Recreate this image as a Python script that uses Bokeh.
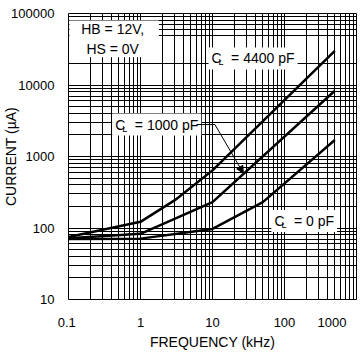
import numpy as np
from bokeh.plotting import figure
from bokeh.models import FixedTicker, Label, Arrow, NormalHead, BoxAnnotation
from bokeh.embed import file_html
from bokeh.resources import INLINE

# ---- data ----
freq_0 = [0.1, 1, 10, 50, 500]
cur_0 = [70, 71, 97, 230, 1700]

freq_1000 = [0.1, 1, 10, 500]
cur_1000 = [72, 83, 230, 8300]

freq_4400 = [0.1, 1, 3, 10, 500]
cur_4400 = [75, 122, 245, 640, 30000]

x_ticks = [0.1, 1, 10, 100, 1000]
x_labels = ["0.1", "1", "10", "100", "1000"]
y_ticks = [10, 100, 1000, 10000, 100000]
y_labels = ["10", "100", "1000", "10000", "100000"]
y_minor_skip = [30000, 40000]

FONT = "Liberation Sans"

p = figure(width=364, height=354, x_axis_type="log", y_axis_type="log",
           x_range=(0.1, 1000), y_range=(10, 100000),
           output_backend="svg", toolbar_location=None,
           min_border_left=66, min_border_right=8, min_border_top=13, min_border_bottom=55)

x_minor = [d * k for d in x_ticks[:-1] for k in range(2, 10)]
y_minor = [d * k for d in y_ticks[:-1] for k in range(2, 10) if d * k not in y_minor_skip]
p.xaxis.ticker = FixedTicker(ticks=x_ticks, minor_ticks=x_minor)
p.yaxis.ticker = FixedTicker(ticks=y_ticks, minor_ticks=y_minor)

xo = dict(zip(x_ticks, x_labels))
xo[0.1] = "0.1\u00a0"
xo[1000] = "1000" + "\u00a0" * 5
p.xaxis.major_label_overrides = xo
p.yaxis.major_label_overrides = dict(zip(y_ticks, y_labels))

for ax in (p.xaxis[0], p.yaxis[0]):
    ax.major_tick_line_color = None
    ax.minor_tick_line_color = None
    ax.axis_line_color = None
    ax.major_label_text_font = FONT
    ax.major_label_text_font_size = "13px"
    ax.major_label_text_color = "black"
    ax.axis_label_text_font = FONT
    ax.axis_label_text_font_size = "14px"
    ax.axis_label_text_font_style = "normal"
    ax.axis_label_text_color = "black"

p.xaxis.axis_label = "FREQUENCY (kHz)"
p.yaxis.axis_label = "CURRENT (\u00b5A)"
p.xaxis.major_label_standoff = 9
p.xaxis.axis_label_standoff = 1
p.yaxis.major_label_standoff = 8
p.yaxis.axis_label_standoff = -11

for g in (p.xgrid[0], p.ygrid[0]):
    g.grid_line_color = "black"
    g.grid_line_width = 1
    g.grid_line_alpha = 1
    g.minor_grid_line_color = "black"
    g.minor_grid_line_width = 1
    g.minor_grid_line_alpha = 1

p.outline_line_color = "black"
p.outline_line_width = 1
p.outline_line_alpha = 1
p.background_fill_color = "white"
p.border_fill_color = "white"

for fx, cy in ((freq_0, cur_0), (freq_1000, cur_1000), (freq_4400, cur_4400)):
    p.line(fx, cy, line_color="black", line_width=2.5)

# ---- annotations ----
def lbl(x, y, text, size="14px", bg=True, **kw):
    opts = dict(x=x, y=y, text=text, text_font=FONT, text_font_size=size,
                text_color="black", text_align="left", text_baseline="middle")
    if bg:
        opts.update(background_fill_color="white", background_fill_alpha=1, padding=3)
    opts.update(kw)
    l = Label(**opts)
    p.add_layout(l)
    return l

# HB / HS box
p.add_layout(BoxAnnotation(left=0.103, right=1.8, bottom=24500, top=80000,
                           fill_color="white", fill_alpha=1, line_color=None))
lbl(0.411, 44000, "HB = 12V,\nHS = 0V", bg=False, text_align="center")

def cl_label(x, y, rest):
    lbl(x, y, "C\u2009\u2009 " + rest)
    lbl(x, y, "L", size="9px", bg=False, x_offset=10, y_offset=-4)

cl_label(8.8, 23500, "= 4400 pF")
cl_label(0.405, 2800, "= 1000 pF")
cl_label(65.8, 125, "= 0 pF")

# leader + arrow for the 1000 pF label
tip_x = 26.8
tip_y = 10 ** np.interp(np.log10(tip_x), np.log10(freq_1000), np.log10(cur_1000)) * 1.03
corner_x = 10.8
p.add_layout(Arrow(x_start=6.0, y_start=2800, x_end=corner_x, y_end=2800, end=None,
                   line_color="black", line_width=1))
p.add_layout(Arrow(x_start=corner_x, y_start=2800, x_end=tip_x, y_end=tip_y,
                   end=NormalHead(size=7, fill_color="black", line_color="black"),
                   line_color="black", line_width=1))

open("out.html", "w").write(file_html(p, INLINE))
